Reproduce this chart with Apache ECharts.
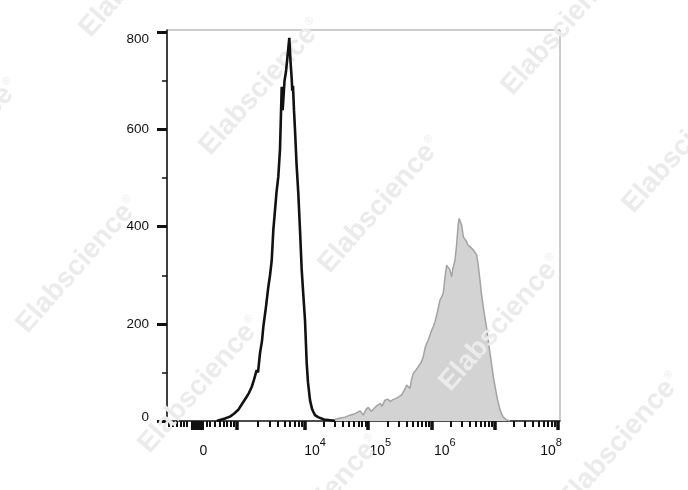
<!DOCTYPE html>
<html><head><meta charset="utf-8">
<script src="https://cdn.jsdelivr.net/npm/echarts@6/dist/echarts.min.js"></script>
<style>html,body{margin:0;padding:0;background:#fff}#c{width:688px;height:490px}</style>
</head><body><div id="c"></div>
<script>
// x values are positions on the biexponential display axis, in decade units (10^4 -> 4, 10^5 -> 5 ...)
const blackX = [2.604,2.656,2.735,2.814,2.877,2.945,3.004,3.078,3.115,3.157,3.194,3.236,3.257,3.289,3.320,3.341,3.383,3.420,3.447,3.474,3.499,3.526,3.549,3.578,3.605,3.632,3.647,3.676,3.700,3.723,3.752,3.771,3.790,3.798,3.810,3.826,3.842,3.866,3.894,3.921,3.948,3.968,4.000,4.027,4.047,4.079,4.111,4.131,4.158,4.206,4.237,4.300,4.368,4.474];
const blackY = [0,2,5,9,15,23,35,50,58,70,85,105,100,140,165,194,235,276,300,331,393,434,470,503,560,688,640,700,720,750,789,740,705,680,690,640,599,530,469,393,311,270,208,119,80,43,25,19,12,8,6,3,2,0];

const grayX = [4.395,4.474,4.553,4.632,4.711,4.791,4.870,4.922,4.964,5.001,5.043,5.080,5.123,5.186,5.217,5.265,5.312,5.344,5.391,5.450,5.486,5.529,5.565,5.608,5.628,5.660,5.684,5.712,5.755,5.791,5.834,5.870,5.897,5.924,5.945,5.976,6.000,6.028,6.055,6.082,6.103,6.134,6.158,6.186,6.213,6.240,6.266,6.292,6.319,6.340,6.372,6.395,6.424,6.438,6.451,6.478,6.503,6.530,6.557,6.577,6.609,6.632,6.661,6.688,6.714,6.735,6.767,6.791,6.819,6.846,6.873,6.893,6.925,6.949,6.977,7.004,7.031,7.051,7.083,7.107,7.135,7.162,7.188,7.241];
const grayY = [2,3,6,8,12,15,21,12,24,28,20,24,30,36,30,43,45,40,44,47,50,54,62,74,70,67,85,98,105,112,120,132,150,160,165,177,186,194,205,218,230,249,255,263,295,321,317,311,297,315,331,360,407,417,414,403,379,375,369,362,359,355,352,347,342,325,290,260,235,212,190,170,140,118,92,72,53,40,24,15,8,4,2,0];

// axis: tick labels and tick positions (display units)
const xMin = 1.818, xMax = 8.032;
const xLabelText = ['0', '10^4', '10^5', '10^6', '10^8'];
const xLabelPos = [2.419, 4.16, 5.19, 6.21, 7.89];
const decadeTicks = [2.925, 4, 5, 6, 7, 8];
const zeroTicks = [2.198,2.213,2.229,2.245,2.261,2.277,2.293,2.308,2.324,2.340,2.356,2.372,2.387];
const smallTicks = [1.850,1.913,1.976,2.040,2.087,2.134,2.446,2.498,2.577,2.656,2.708,2.762,2.825,2.877];
const yMax = 805;
const yLabelValues = [0, 200, 400, 600, 800];
const yMinorValues = [100, 300, 500, 700];
const watermarkCenters = [[563,27],[684,145],[141,-31],[261,87],[380,205],[501,323],[620,441],[-42,147],[78,265],[200,385],[320,503]];

// minor log ticks within decades
const minorTicks = smallTicks.slice();
for (let k = 2; k <= 9; k++) minorTicks.push(+(2.925 + 1.075 * Math.log10(k)).toFixed(4));
for (let d = 4; d < 8; d++) for (let k = 2; k <= 9; k++) minorTicks.push(+(d + Math.log10(k)).toFixed(4));

const FONT = 'Liberation Sans, Arial, sans-serif';
const chart = echarts.init(document.getElementById('c'), null, {renderer: 'canvas'});

function tickAxis(values, len, width, showLine) {
  return {
    type: 'value', min: xMin, max: xMax, position: 'bottom', offset: 0,
    axisLine: {show: !!showLine, onZero: false, lineStyle: {color: '#222', width: 1.5}},
    axisTick: {show: true, customValues: values, length: len, lineStyle: {color: '#111', width: width}},
    axisLabel: {show: false}, splitLine: {show: false}
  };
}

const option = {
  animation: false,
  backgroundColor: '#fff',
  grid: {left: 167, right: 128, top: 30, bottom: 69, show: true, borderColor: '#999', borderWidth: 1, backgroundColor: 'transparent'},
  xAxis: [
    tickAxis(decadeTicks, 9, 3.5, true),
    tickAxis(zeroTicks, 9, 1, false),
    tickAxis(minorTicks, 6, 2, false),
    {
      type: 'value', min: xMin, max: xMax, position: 'bottom', offset: 0,
      axisLine: {show: false}, axisTick: {show: false}, splitLine: {show: false},
      axisLabel: {
        show: true, customValues: xLabelPos, margin: 19, color: '#111',
        formatter: function (v) {
          let i = 0, best = 1e9;
          xLabelPos.forEach((p, j) => { if (Math.abs(p - v) < best) { best = Math.abs(p - v); i = j; } });
          const t = xLabelText[i].split('^');
          return t.length > 1 ? '{b|' + t[0] + '}{s|' + t[1] + '}' : '{b|' + t[0] + '}{s| }';
        },
        rich: {
          b: {fontFamily: FONT, fontSize: 14, color: '#111', lineHeight: 15, padding: [8, 0, 0, 0]},
          s: {fontFamily: FONT, fontSize: 11, color: '#111', lineHeight: 11, padding: [0, 0, 9, 0]}
        }
      }
    }
  ],
  yAxis: [
    {
      type: 'value', min: 0, max: yMax, position: 'left', offset: 0,
      axisLine: {show: true, onZero: false, lineStyle: {color: '#111', width: 1.5}},
      axisTick: {show: true, customValues: yLabelValues, length: 10, lineStyle: {color: '#111', width: 3}},
      axisLabel: {
        show: true, customValues: yLabelValues, margin: 18, color: '#111',
        formatter: function (v) { return v === 800 ? '{t|' + v + '}' : (v === 0 ? '{z|' + v + '}' : '{n|' + v + '}'); },
        rich: {
          n: {fontFamily: FONT, fontSize: 13.5, color: '#111'},
          t: {fontFamily: FONT, fontSize: 13.5, color: '#111', padding: [14, 0, 0, 0]},
          z: {fontFamily: FONT, fontSize: 13.5, color: '#111', padding: [0, 0, 7, 0]}
        }
      },
      splitLine: {show: false}
    },
    {
      type: 'value', min: 0, max: yMax, position: 'left', offset: 0,
      axisLine: {show: false},
      axisTick: {show: true, customValues: yMinorValues, length: 5, lineStyle: {color: '#111', width: 1.5}},
      axisLabel: {show: false}, splitLine: {show: false}
    }
  ],
  graphic: {
    elements: watermarkCenters.map(c => ({
      type: 'text', x: c[0], y: c[1], rotation: 0.85, z: 3, silent: true,
      style: {
        text: '{m|Elabscience}{r|®}', align: 'center', verticalAlign: 'middle',
        rich: {
          m: {fontFamily: FONT, fontWeight: 'bold', fontSize: 28, fill: '#ebebeb'},
          r: {fontFamily: FONT, fontSize: 11, fill: '#ebebeb', padding: [0, 0, 14, 1]}
        }
      }
    }))
  },
  series: [
    {
      type: 'line', xAxisIndex: 0, yAxisIndex: 0, z: 2, symbol: 'none', showSymbol: false,
      data: grayX.map((x, i) => [x, grayY[i]]),
      lineStyle: {color: '#a3a3a3', width: 1.5},
      areaStyle: {color: '#d3d3d3', opacity: 1}
    },
    {
      type: 'line', xAxisIndex: 0, yAxisIndex: 0, z: 4, symbol: 'none', showSymbol: false,
      data: blackX.map((x, i) => [x, blackY[i]]),
      lineStyle: {color: '#111', width: 2.6}
    }
  ]
};
chart.setOption(option);
</script>
</body></html>
